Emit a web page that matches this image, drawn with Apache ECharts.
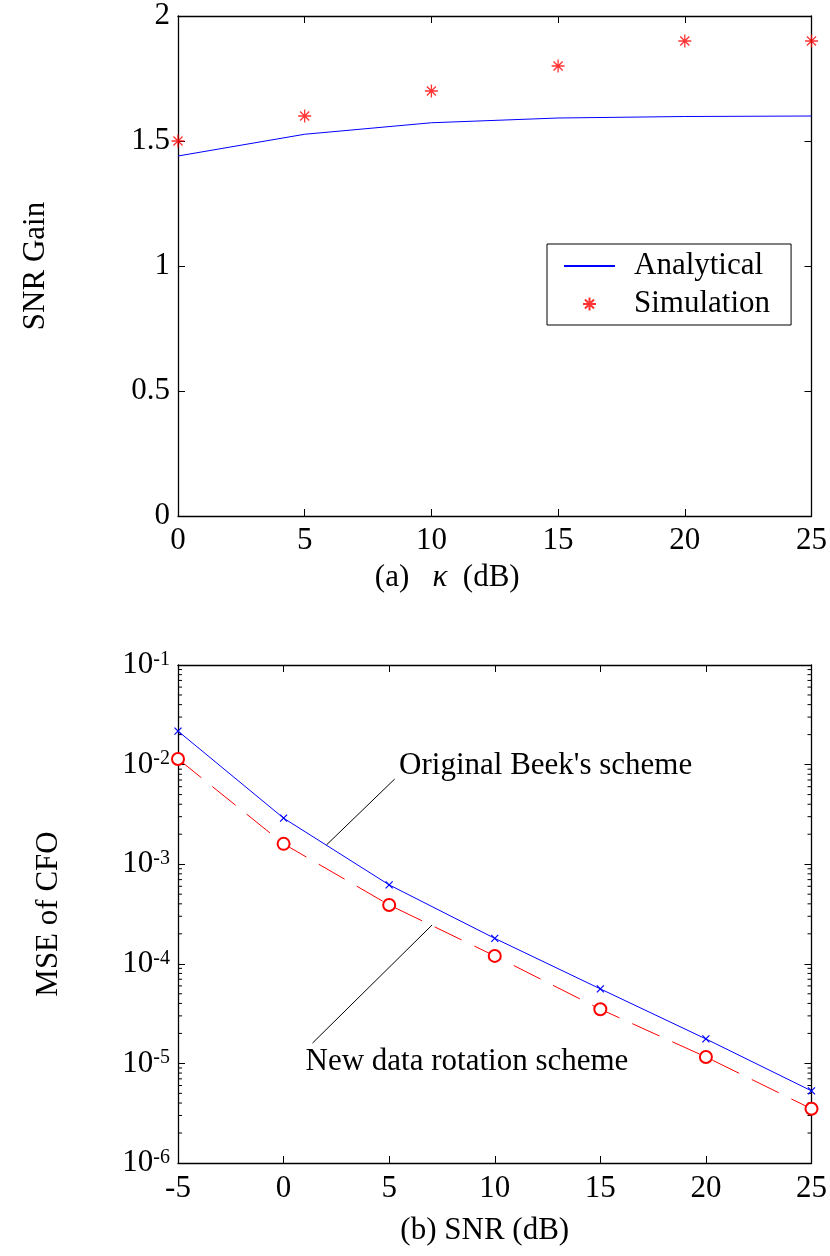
<!DOCTYPE html>
<html><head><meta charset="utf-8">
<script src="https://cdn.jsdelivr.net/npm/echarts@6/dist/echarts.min.js"></script>
<style>html,body{margin:0;padding:0;background:#fff}#c{width:830px;height:1256px}</style>
</head><body><div id="c"></div>
<script>
// ---- chart (a) data ----
const kappa = [0, 5, 10, 15, 20, 25];
const analytical = [1.44, 1.527, 1.573, 1.592, 1.598, 1.6];
const simulation = [1.5, 1.6, 1.7, 1.8, 1.9, 1.9];
// ---- chart (b) data ----
const snr = [-5, 0, 5, 10, 15, 20, 25];
const beek = [0.0217, 0.0029, 6.2e-4, 1.8e-4, 5.6e-5, 1.76e-5, 5.3e-6];
const newScheme = [0.0114, 0.0016, 3.9e-4, 1.2e-4, 3.5e-5, 1.16e-5, 3.5e-6];
const logTickExps = [-6, -5, -4, -3, -2, -1];
// annotations (data coordinates)
const beekNote = { text: "Original Beek's scheme", at: [5.47, 0.00968], leader: [[5.26, 7.16e-3], [2.03, 1.56e-3]] };
const newNote = { text: "New data rotation scheme", at: [1.04, 1.03e-5], leader: [[1.37, 1.6e-5], [7.03, 2.45e-4]] };

const FONT = 'Liberation Serif';
const FS = 31;
const bMin = -5, bMax = 25;
const yLogMin = Math.pow(10, logTickExps[0]), yLogMax = Math.pow(10, logTickExps[logTickExps.length - 1]);
const minorTicks = [];
for (let e = logTickExps[0]; e < logTickExps[logTickExps.length - 1]; e++) {
  for (let m = 2; m <= 9; m++) minorTicks.push(m * Math.pow(10, e));
}

const STAR = 'path://M0 5L10 5M5 0L5 10M1.5 1.5L8.5 8.5M8.5 1.5L1.5 8.5';
const XMARK = 'path://M0 0L10 10M10 0L0 10';

const axisLine = { show: true, onZero: false, lineStyle: { color: '#000', width: 1.3 } };
const tick = { show: true, inside: true, length: 7, lineStyle: { color: '#000', width: 1 } };
const lbl = { color: '#000', fontFamily: FONT, fontSize: FS, lineHeight: 31 };

const chart = echarts.init(document.getElementById('c'), null, { renderer: 'canvas' });
chart.setOption({
  backgroundColor: '#fff',
  animation: false,
  grid: [
    { left: 178, top: 16, width: 636, height: 500 },
    { left: 178, top: 665, width: 636, height: 498 }
  ],
  legend: {
    data: [{ name: 'Analytical', itemStyle: { opacity: 0 } }, { name: 'Simulation' }],
    orient: 'vertical',
    left: 547, top: 244,
    padding: [5, 21, 4, 16],
    itemWidth: 51, itemHeight: 13, itemGap: 4,
    backgroundColor: '#fff',
    borderColor: '#000', borderWidth: 1,
    textStyle: { color: '#000', fontFamily: FONT, fontSize: FS, lineHeight: 34, padding: [0, 0, 0, 14] }
  },
  xAxis: [
    { gridIndex: 0, type: 'value', min: kappa[0], max: kappa[kappa.length - 1], interval: 5,
      axisLine, axisTick: tick, splitLine: { show: false },
      axisLabel: Object.assign({ margin: 9 }, lbl),
      name: '(a)   {k|κ}  (dB)', nameLocation: 'middle', nameGap: 46,
      nameTextStyle: { color: '#000', fontFamily: FONT, fontSize: FS, padding: [0, 95, 0, 0],
        rich: { k: { fontFamily: FONT, fontSize: FS, fontStyle: 'italic', color: '#000' } } } },
    { gridIndex: 0, type: 'value', position: 'top', min: kappa[0], max: kappa[kappa.length - 1], interval: 5,
      axisLine, axisTick: tick, axisLabel: { show: false }, splitLine: { show: false } },
    { gridIndex: 1, type: 'value', min: bMin, max: bMax, interval: 5,
      axisLine, axisTick: tick, splitLine: { show: false },
      axisLabel: Object.assign({ margin: 10 }, lbl),
      name: '(b) SNR (dB)', nameLocation: 'middle', nameGap: 52,
      nameTextStyle: { color: '#000', fontFamily: FONT, fontSize: FS, padding: [0, 20, 0, 0] } },
    { gridIndex: 1, type: 'value', position: 'top', min: bMin, max: bMax, interval: 5,
      axisLine, axisTick: tick, axisLabel: { show: false }, splitLine: { show: false } }
  ],
  yAxis: [
    { gridIndex: 0, type: 'value', min: 0, max: 2, interval: 0.5,
      axisLine, axisTick: tick, splitLine: { show: false },
      axisLabel: Object.assign({ margin: 8 }, lbl),
      name: 'SNR Gain', nameLocation: 'middle', nameGap: 127,
      nameTextStyle: { color: '#000', fontFamily: FONT, fontSize: FS } },
    { gridIndex: 0, type: 'value', position: 'right', min: 0, max: 2, interval: 0.5,
      axisLine, axisTick: tick, axisLabel: { show: false }, splitLine: { show: false } },
    { gridIndex: 1, type: 'log', logBase: 10, min: yLogMin, max: yLogMax, interval: 1,
      axisLine, axisTick: tick, splitLine: { show: false },
      axisLabel: {
        margin: 8, color: '#000',
        formatter: v => '{b|10}{s|' + Math.round(Math.log10(v)) + '}',
        rich: {
          b: { fontFamily: FONT, fontSize: FS, lineHeight: 31, verticalAlign: 'bottom', color: '#000' },
          s: { fontFamily: FONT, fontSize: 20, lineHeight: 20, verticalAlign: 'top', color: '#000' }
        }
      },
      name: 'MSE of CFO', nameLocation: 'middle', nameGap: 114,
      nameTextStyle: { color: '#000', fontFamily: FONT, fontSize: FS } },
    { gridIndex: 1, type: 'log', logBase: 10, position: 'right', min: yLogMin, max: yLogMax, interval: 1,
      axisLine, axisTick: tick, axisLabel: { show: false }, splitLine: { show: false } }
  ],
  series: [
    { name: 'Analytical', type: 'line', xAxisIndex: 0, yAxisIndex: 0,
      data: kappa.map((k, i) => [k, analytical[i]]),
      symbol: 'none', lineStyle: { color: '#0000ff', width: 1 }, itemStyle: { color: '#0000ff' } },
    { name: 'Simulation', type: 'scatter', xAxisIndex: 0, yAxisIndex: 0,
      data: kappa.map((k, i) => [k, simulation[i]]),
      symbol: STAR, symbolSize: 13,
      itemStyle: { color: '#ff0000', borderColor: '#ff0000', borderWidth: 1.3 } },
    { name: "Original Beek's scheme", type: 'line', xAxisIndex: 2, yAxisIndex: 2,
      data: snr.map((s, i) => [s, beek[i]]),
      symbol: XMARK, symbolSize: 7,
      lineStyle: { color: '#0000ff', width: 1 },
      itemStyle: { color: '#0000ff', borderColor: '#0000ff', borderWidth: 1.2 } },
    { name: 'New data rotation scheme', type: 'line', xAxisIndex: 2, yAxisIndex: 2,
      data: snr.map((s, i) => [s, newScheme[i]]),
      symbol: 'emptyCircle', symbolSize: 12,
      lineStyle: { color: '#ff0000', width: 1, type: [30, 14] },
      itemStyle: { color: '#ff0000', borderColor: '#ff0000', borderWidth: 1 } },
    { name: 'leader1', type: 'line', xAxisIndex: 2, yAxisIndex: 2, data: beekNote.leader,
      symbol: 'none', silent: true, lineStyle: { color: '#000', width: 1 } },
    { name: 'leader2', type: 'line', xAxisIndex: 2, yAxisIndex: 2, data: newNote.leader,
      symbol: 'none', silent: true, lineStyle: { color: '#000', width: 1 } },
    { name: 'notes', type: 'scatter', xAxisIndex: 2, yAxisIndex: 2, symbolSize: 0, silent: true,
      data: [beekNote, newNote].map(n => ({ value: n.at, note: n.text })),
      label: { show: true, position: 'right', distance: 0, color: '#000', opacity: 1,
        fontFamily: FONT, fontSize: FS, formatter: p => p.data.note } },
    { name: 'minorTicks', type: 'custom', xAxisIndex: 2, yAxisIndex: 2, silent: true, clip: false,
      data: minorTicks.map(v => [bMin, v]),
      renderItem: (params, api) => {
        const v = api.value(1);
        const pL = api.coord([bMin, v]);
        const pR = api.coord([bMax, v]);
        return { type: 'group', children: [
          { type: 'line', shape: { x1: pL[0], y1: pL[1], x2: pL[0] + 4, y2: pL[1] }, style: { stroke: '#000', lineWidth: 1 } },
          { type: 'line', shape: { x1: pR[0], y1: pR[1], x2: pR[0] - 4, y2: pR[1] }, style: { stroke: '#000', lineWidth: 1 } }
        ] };
      } }
  ]
});
</script></body></html>
